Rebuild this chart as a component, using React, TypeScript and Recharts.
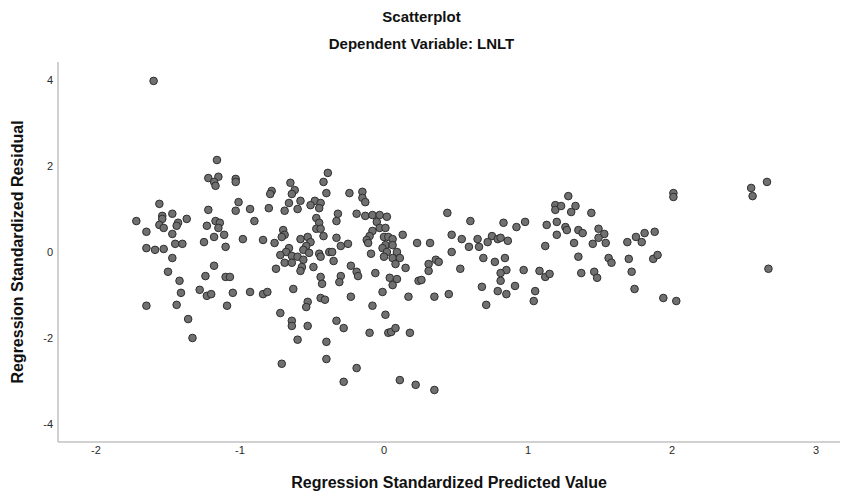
import React from 'react';
import { ScatterChart, Scatter, XAxis, YAxis } from 'recharts';

// Regression standardized predicted value (x) per case
const predicted = [
    // left cluster
    -1.60, -1.16, -1.22, -1.15, -1.18, -1.17, -1.03, -1.03, -1.56, -1.01,
    -1.03, -1.22, -0.93, -1.72, -1.47, -1.54, -1.54, -1.56, -1.53, -1.43,
    -1.44, -1.37, -1.17, -1.14, -1.15, -1.23, -1.65, -1.47, -1.11, -1.18,
    -0.98, -1.25, -1.45, -1.40, -1.10, -1.65, -1.59, -1.53, -1.47, -1.18,
    -1.50, -1.24, -1.42, -1.10, -1.07, -1.28, -1.23, -1.20, -1.05, -1.41,
    -0.93, -1.65, -1.44, -1.09, -1.36, -1.33,
    // around -0.6
    -0.39, -0.42, -0.65, -0.62, -0.78, -0.79, -0.64, -0.40, -0.66, -0.58,
    -0.48, -0.51, -0.44, -0.45, -0.80, -0.69, -0.60, -0.90, -0.47, -0.45,
    -0.47, -0.44, -0.42, -0.70, -0.69, -0.71, -0.84, -0.76, -0.58, -0.53,
    -0.51, -0.54, -0.66, -0.68, -0.72, -0.64, -0.60, -0.56, -0.52, -0.45,
    -0.38,
    -0.69, -0.64, -0.56, -0.44, -0.57, -0.58, -0.49, -0.75, -0.44, -0.43,
    -0.84, -0.81, -0.63, -0.53, -0.54, -0.44, -0.41, -0.72, -0.64, -0.64,
    -0.53, -0.60, -0.40, -0.40, -0.71,
    // around 0
    -0.24, -0.15, -0.15, -0.13, -0.32, -0.33, -0.19, -0.13, -0.08, -0.03,
    -0.05, 0.02, -0.03, 0.01, -0.08, -0.10, 0.00, 0.03, 0.13, 0.23,
    -0.12, -0.11, -0.33, -0.30, -0.25, 0.06, 0.01, 0.06, -0.36, -0.09,
    -0.01, 0.02, 0.09, 0.00, 0.06, 0.11,
    0.08, -0.35, -0.23, -0.19, -0.18, -0.30, -0.31, -0.06, 0.15, 0.04,
    0.09, 0.06, 0.24, -0.23, -0.01, 0.17, -0.08, 0.01, -0.33, -0.28,
    -0.10, 0.03, 0.05, 0.08, 0.18, -0.19, -0.28, 0.11, 0.22, 0.35,
    // 0.3 .. 1.2
    0.44, 0.60, 0.83, 0.92, 0.98, 1.13, 1.19, 1.19, 1.20, 1.20,
    0.32, 0.47, 0.54, 0.65, 0.75, 0.79, 0.81, 0.86, 0.72, 0.59,
    0.66, 0.47, 1.12, 0.31, 0.31, 0.36, 0.38, 0.53, 0.69, 0.77,
    0.84, 0.85, 0.81, 0.81, 0.97, 1.08, 1.12, 1.15, 0.26, 0.68,
    0.79, 0.91, 0.85, 1.05, 1.04, 0.35, 0.45, 0.71,
    // 1.2 .. 2.1
    1.28, 1.23, 1.33, 1.30, 1.44, 2.01, 2.01, 1.26, 1.27, 1.35,
    1.38, 1.49, 1.53, 1.49, 1.54, 1.32, 1.45, 1.69, 1.75, 1.79,
    1.81, 1.88, 1.35, 1.56, 1.58, 1.70, 1.87, 1.90, 1.37, 1.46,
    1.48, 1.72, 1.74, 1.94, 2.03,
    // far right
    2.66, 2.55, 2.56, 2.67,
];

// Regression standardized residual (y) per case, same order
const residual = [
    3.99, 2.15, 1.73, 1.76, 1.64, 1.55, 1.71, 1.64, 1.13, 1.17,
    0.97, 0.99, 1.01, 0.73, 0.90, 0.85, 0.78, 0.64, 0.57, 0.69,
    0.62, 0.78, 0.73, 0.69, 0.57, 0.62, 0.48, 0.43, 0.41, 0.36,
    0.31, 0.24, 0.20, 0.20, 0.13, 0.10, 0.06, 0.08, -0.13, -0.31,
    -0.45, -0.55, -0.66, -0.57, -0.57, -0.87, -1.01, -0.97, -0.94, -0.94,
    -0.92, -1.24, -1.22, -1.24, -1.55, -1.99,
    1.85, 1.64, 1.62, 1.45, 1.43, 1.36, 1.36, 1.38, 1.15, 1.20,
    1.20, 1.10, 1.15, 1.03, 1.03, 0.97, 1.01, 0.73, 0.80, 0.69,
    0.55, 0.55, 0.38, 0.52, 0.41, 0.36, 0.29, 0.22, 0.31, 0.36,
    0.24, 0.15, 0.10, 0.01, -0.06, -0.08, -0.10, 0.06, -0.01, -0.03,
    0.01,
    -0.24, -0.24, -0.17, -0.10, -0.34, -0.43, -0.34, -0.38, -0.57, -0.73,
    -0.97, -0.92, -0.85, -1.15, -1.27, -1.06, -1.10, -1.41, -1.59, -1.71,
    -1.71, -2.03, -2.08, -2.48, -2.59,
    1.38, 1.41, 1.27, 1.17, 0.90, 0.73, 0.90, 0.85, 0.87, 0.87,
    0.71, 0.83, 0.57, 0.57, 0.50, 0.38, 0.36, 0.36, 0.41, 0.22,
    0.29, 0.22, 0.34, 0.15, 0.20, 0.31, 0.17, 0.17, 0.01, -0.03,
    0.10, 0.01, 0.01, -0.10, -0.13, -0.13,
    -0.27, -0.20, -0.31, -0.45, -0.55, -0.55, -0.69, -0.48, -0.36, -0.59,
    -0.62, -0.76, -0.66, -1.03, -0.92, -1.03, -1.24, -1.45, -1.59, -1.76,
    -1.87, -1.87, -1.85, -1.76, -1.87, -2.69, -3.01, -2.97, -3.08, -3.20,
    0.92, 0.73, 0.69, 0.59, 0.71, 0.64, 1.10, 0.99, 0.71, 0.41,
    0.22, 0.41, 0.31, 0.31, 0.38, 0.31, 0.34, 0.27, 0.24, 0.13,
    0.13, 0.01, 0.15, -0.27, -0.43, -0.17, -0.22, -0.38, -0.13, -0.22,
    -0.13, -0.41, -0.48, -0.66, -0.41, -0.43, -0.57, -0.50, -0.64, -0.80,
    -0.90, -0.78, -0.97, -0.90, -1.13, -1.03, -0.97, -1.22,
    1.31, 1.08, 1.08, 0.94, 0.92, 1.38, 1.29, 0.59, 0.52, 0.52,
    0.45, 0.55, 0.43, 0.34, 0.22, 0.22, 0.20, 0.24, 0.36, 0.24,
    0.45, 0.48, -0.10, -0.13, -0.24, -0.15, -0.15, -0.06, -0.48, -0.45,
    -0.59, -0.45, -0.85, -1.06, -1.13,
    1.64, 1.50, 1.31, -0.38,
];

const xTicks = [-2, -1, 0, 1, 2, 3];
const yTicks = [-4, -2, 0, 2, 4];

const points = predicted.map((x, i) => ({ x, y: residual[i] }));

const font = '"Liberation Sans", Arial, sans-serif';
const axisColor = '#a3a3a3';
const tickStyle = { fontSize: 11, fill: '#2a2a2a', stroke: 'none', fontFamily: font };

const Dot = (props: any) => (
    <circle cx={props.cx} cy={props.cy} r={3.8} fill="#707070" stroke="#2e2e2e" strokeWidth={1} />
);

export default function App() {
    return (
        <div style={{ position: 'absolute', left: 0, top: 0, width: 843, height: 494, background: '#fff', fontFamily: font, color: '#111' }}>
            <div style={{ position: 'absolute', top: 8, left: 0, width: 843, textAlign: 'center', fontSize: 15, lineHeight: '18px', fontWeight: 700 }}>
                Scatterplot
            </div>
            <div style={{ position: 'absolute', top: 35, left: 0, width: 843, textAlign: 'center', fontSize: 15, lineHeight: '18px', fontWeight: 700 }}>
                Dependent Variable: LNLT
            </div>
            <div style={{ position: 'absolute', top: 473, left: 58, width: 782, textAlign: 'center', fontSize: 16, lineHeight: '20px', fontWeight: 700 }}>
                Regression Standardized Predicted Value
            </div>
            <div style={{ position: 'absolute', top: 242, left: -172, width: 380, height: 20, textAlign: 'center', fontSize: 16, lineHeight: '20px', fontWeight: 700, transform: 'rotate(-90deg)' }}>
                Regression Standardized Residual
            </div>
            <ScatterChart width={843} height={494} margin={{ top: 62, right: 3, bottom: 0, left: 0 }}>
                <XAxis
                    type="number"
                    dataKey="x"
                    domain={[-2.264, 3.167]}
                    ticks={xTicks}
                    allowDataOverflow
                    height={52}
                    tickLine={false}
                    tickSize={0}
                    tickMargin={4}
                    axisLine={{ stroke: axisColor }}
                    tick={tickStyle}
                />
                <YAxis
                    type="number"
                    dataKey="y"
                    domain={[-4.41, 4.43]}
                    ticks={yTicks}
                    allowDataOverflow
                    width={58}
                    tickLine={false}
                    tickSize={0}
                    tickMargin={5}
                    axisLine={{ stroke: axisColor }}
                    tick={tickStyle}
                />
                <Scatter data={points} shape={Dot} isAnimationActive={false} />
            </ScatterChart>
        </div>
    );
}
